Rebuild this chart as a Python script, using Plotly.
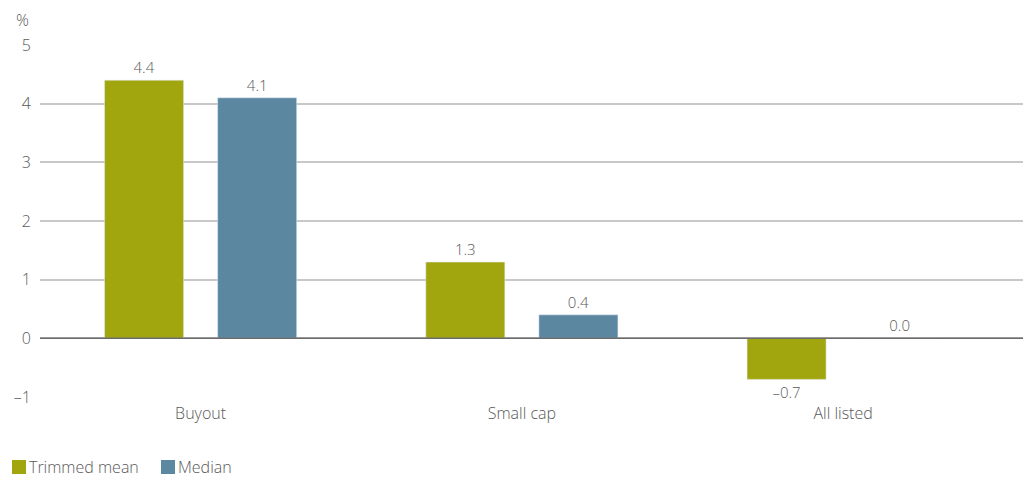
import plotly.graph_objects as go

categories = ["Buyout", "Small cap", "All listed"]
trimmed_mean = [4.4, 1.3, -0.7]
median = [4.1, 0.4, 0.0]
series_names = ["Trimmed mean", "Median"]
y_tick_vals = [-1, 0, 1, 2, 3, 4, 5]
y_tick_text = ["\u20131", "0", "1", "2", "3", "4", "5"]

OLIVE = "#A2A60E"
BLUE = "#5B87A1"
TXT = "#595959"
FONT = "Open Sans, Noto Sans, sans-serif"
W = 300


def fmt(v):
    s = f"{abs(v):.1f}"
    return ("\u2013" + s) if v < 0 else s


fig = go.Figure()
fig.add_trace(go.Bar(
    name=series_names[0], x=categories, y=trimmed_mean, marker_color=OLIVE,
    text=[fmt(v) for v in trimmed_mean], textposition="outside",
    textfont=dict(size=15, color=TXT, family=FONT, weight=W), cliponaxis=False,
))
fig.add_trace(go.Bar(
    name=series_names[1], x=categories, y=median, marker_color=BLUE,
    text=[fmt(v) for v in median], textposition="outside",
    textfont=dict(size=15, color=TXT, family=FONT, weight=W), cliponaxis=False,
))

shapes = [dict(type="line", xref="paper", yref="y", x0=0, x1=1, y0=0, y1=0,
               line=dict(color="#6b6b6b", width=1.5), layer="above")]

# manual legend (plot area: x 40..1023 px, y 45..397 px)
def px_x(p):
    return (p - 40) / 983.0


def px_y(p):
    return (397 - p) / 352.0


annotations = [dict(text="%", xref="paper", yref="paper", x=-0.018, y=1.035,
                    xanchor="center", yanchor="bottom", showarrow=False,
                    font=dict(size=16, color=TXT, family=FONT, weight=W))]
legend_items = [(series_names[0], OLIVE, 12), (series_names[1], BLUE, 161)]
for name, col, x0 in legend_items:
    shapes.append(dict(type="rect", xref="paper", yref="paper",
                       x0=px_x(x0), x1=px_x(x0 + 14), y0=px_y(474), y1=px_y(460),
                       fillcolor=col, line=dict(width=0)))
    annotations.append(dict(text=name, xref="paper", yref="paper",
                            x=px_x(x0 + 15), y=px_y(467), xanchor="left",
                            yanchor="middle", showarrow=False,
                            font=dict(size=16, color=TXT, family=FONT, weight=W)))

fig.update_layout(
    width=1029, height=480,
    margin=dict(l=40, r=6, t=45, b=83, autoexpand=False),
    paper_bgcolor="white", plot_bgcolor="white",
    barmode="group", bargap=0.296, bargroupgap=0.301,
    font=dict(family=FONT, color=TXT, size=16, weight=W),
    showlegend=False,
    xaxis=dict(type="category", range=[-0.5, 2.56], showgrid=False, showline=False,
               ticks="", ticklabelstandoff=5,
               tickfont=dict(size=16, color=TXT, family=FONT, weight=W)),
    yaxis=dict(range=[-1, 5], tickvals=y_tick_vals, ticktext=y_tick_text,
               showgrid=True, gridcolor="#c8c8c8", gridwidth=1.5, zeroline=False,
               showline=False, ticks="", ticklabelstandoff=8,
               tickfont=dict(size=16, color=TXT, family=FONT, weight=W)),
    shapes=shapes,
    annotations=annotations,
)

fig.write_html("out.html")
